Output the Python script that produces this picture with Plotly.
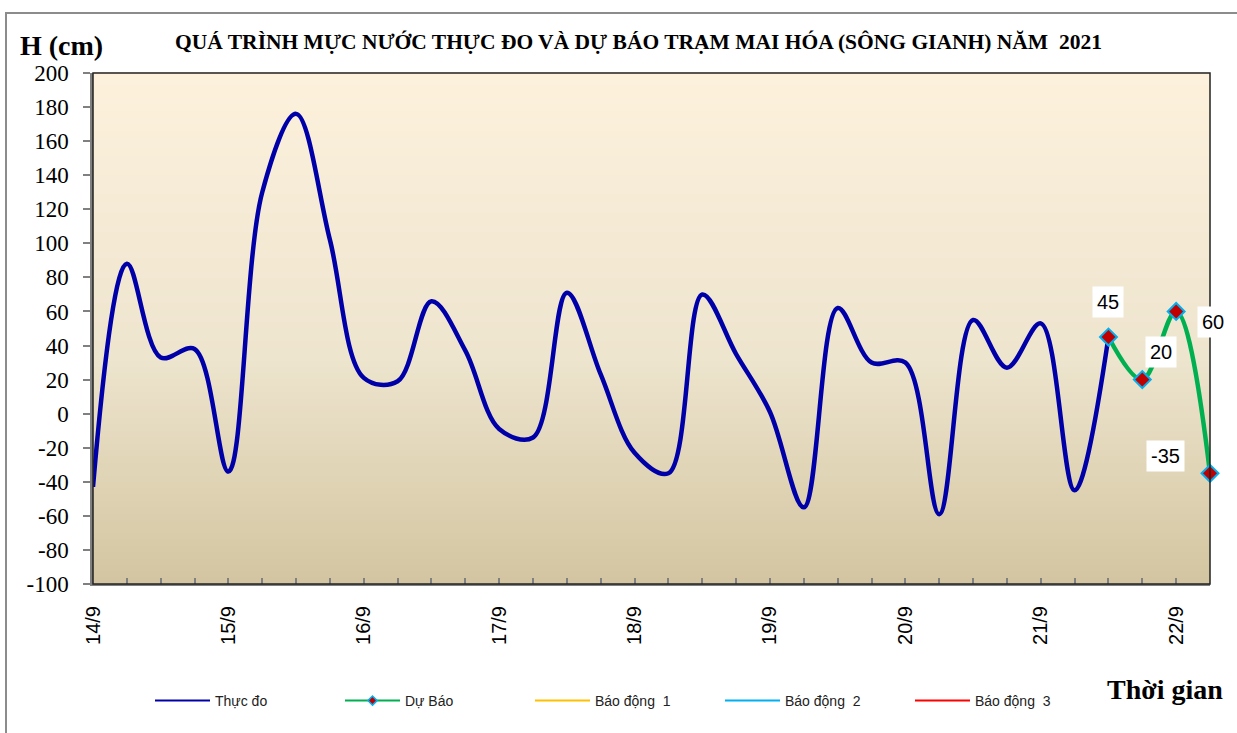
import plotly.graph_objects as go

# ---- data (6-hourly, index 0 = 14/9 00h) ----
observed = [-43, 88, 33, 38, -34, 130, 176, 102, 21, 19, 66,
            37, -9, -14, 71, 23, -23, -35, 70, 35, 1, -55,
            62, 30, 30, -59, 55, 27, 53, -45, 45]
forecast_idx = [30, 31, 32, 33]
forecast = [45, 20, 60, -35]
day_labels = ["14/9", "15/9", "16/9", "17/9", "18/9", "19/9", "20/9", "21/9", "22/9"]
steps_per_day = 4
y_ticks = [200, 180, 160, 140, 120, 100, 80, 60, 40, 20, 0, -20, -40, -60, -80, -100]
alarm_levels = {"Báo động  1": 350, "Báo động  2": 500, "Báo động  3": 650}
alarm_colors = {"Báo động  1": "#ffc000", "Báo động  2": "#00b0f0", "Báo động  3": "#ff0000"}

n_total = len(observed) + len(forecast) - 1
x_obs = list(range(len(observed)))
tickvals = list(range(n_total))
ticktext = [day_labels[i // steps_per_day] if i % steps_per_day == 0 else "" for i in tickvals]

W, H = 1237, 733
L, R, T, B = 93, 27, 73, 149
pw, ph = W - L - R, H - T - B

def px_x(p):  # pixel -> paper x
    return (p - L) / pw

def px_y(p):  # pixel -> paper y
    return (H - B - p) / ph

fig = go.Figure()

fig.add_trace(go.Scatter(x=x_obs, y=observed, mode="lines", name="Thực đo", showlegend=False,
                         line=dict(color="#0000a8", width=4.5, shape="spline", smoothing=1)))
fig.add_trace(go.Scatter(x=forecast_idx, y=forecast, mode="lines+markers", name="Dự Báo",
                         showlegend=False,
                         line=dict(color="#00b050", width=4.5, shape="spline", smoothing=1),
                         marker=dict(symbol="diamond", size=13, color="#c00000",
                                     line=dict(color="#00b0f0", width=2)),
                         cliponaxis=False))
for name, lvl in alarm_levels.items():
    fig.add_trace(go.Scatter(x=[0, n_total - 1], y=[lvl, lvl], mode="lines", name=name,
                             showlegend=False, line=dict(color=alarm_colors[name], width=2)))

# legend entries (thin sample lines like the reference legend)
fig.add_trace(go.Scatter(x=[None], y=[None], mode="lines", name="Thực đo",
                         line=dict(color="#0000a8", width=2)))
fig.add_trace(go.Scatter(x=[None], y=[None], mode="lines+markers", name="Dự Báo",
                         line=dict(color="#00b050", width=2),
                         marker=dict(symbol="diamond", size=7, color="#c00000",
                                     line=dict(color="#00b0f0", width=1.5))))
for name in alarm_levels:
    fig.add_trace(go.Scatter(x=[None], y=[None], mode="lines", name=name,
                             line=dict(color=alarm_colors[name], width=2)))

# data labels
label_shift = [(0, 35), (19, 28), (37, -11), (-45, 17)]
for (xi, yv), (dx, dy) in zip(zip(forecast_idx, forecast), label_shift):
    fig.add_annotation(x=xi, y=yv, text=str(yv), showarrow=False, xshift=dx, yshift=dy,
                       bgcolor="white", borderpad=4,
                       font=dict(family="Liberation Sans, Arial", size=20, color="black"))

# gradient background (bands)
def mix(c1, c2, t):
    return "#" + "".join(f"{round(a + (b - a) * t):02x}" for a, b in zip(c1, c2))
stops = [(0.0, (0xd3, 0xc5, 0xa0)), (0.45, (0xee, 0xe5, 0xcf)), (1.0, (0xfd, 0xf1, 0xdc))]
nb = 80
for k in range(nb):
    y0, y1 = k / nb, (k + 1) / nb
    t = (y0 + y1) / 2
    for (a, ca), (b, cb) in zip(stops[:-1], stops[1:]):
        if a <= t <= b:
            col = mix(ca, cb, (t - a) / (b - a))
            break
    fig.add_shape(type="rect", xref="paper", yref="paper", x0=0, x1=1, y0=y0, y1=y1 + 0.002,
                  fillcolor=col, line=dict(width=0), layer="below")

# plot-area border (top/right black)
fig.add_shape(type="rect", xref="paper", yref="paper", x0=0, x1=1, y0=0, y1=1,
              line=dict(color="#222222", width=1.5), layer="above")
# chart-area border
fig.add_shape(type="rect", xref="paper", yref="paper", x0=px_x(6), x1=px_x(1245),
              y0=px_y(745), y1=px_y(13), line=dict(color="#8c8c8c", width=2))

serif = "Liberation Serif, Times New Roman"
fig.add_annotation(xref="paper", yref="paper", x=px_x(61), y=px_y(46), xanchor="center",
                   yanchor="middle", showarrow=False, text="<b>H (cm)</b>",
                   font=dict(family=serif, size=28, color="black"))
fig.add_annotation(xref="paper", yref="paper", x=px_x(638), y=px_y(42), xanchor="center",
                   yanchor="middle", showarrow=False,
                   text="<b>QUÁ TRÌNH MỰC NƯỚC THỰC ĐO VÀ DỰ BÁO TRẠM MAI HÓA (SÔNG GIANH) NĂM  2021</b>",
                   font=dict(family=serif, size=21.5, color="black"))
fig.add_annotation(xref="paper", yref="paper", x=px_x(1165), y=px_y(690), xanchor="center",
                   yanchor="middle", showarrow=False, text="<b>Thời gian</b>",
                   font=dict(family=serif, size=28, color="black"))

fig.update_layout(
    width=W, height=H, margin=dict(l=L, r=R, t=T, b=B),
    paper_bgcolor="white", plot_bgcolor="rgba(0,0,0,0)",
    showlegend=True,
    legend=dict(orientation="h", x=px_x(150), y=px_y(701), xanchor="left", yanchor="middle",
                font=dict(family="Liberation Sans, Arial", size=14, color="#222222"),
                itemwidth=55, entrywidth=120, entrywidthmode="pixels",
                bgcolor="rgba(0,0,0,0)"),
    xaxis=dict(range=[0, n_total - 1], tickvals=tickvals, ticktext=ticktext, tickangle=-90,
               ticks="inside", ticklen=6, tickcolor="#808080", tickwidth=1.5,
               ticklabelstandoff=12,
               showline=True, linecolor="#808080", linewidth=2, showgrid=False, zeroline=False,
               tickfont=dict(family="Liberation Sans, Arial", size=20, color="black")),
    yaxis=dict(range=[-100, 200], tickvals=y_ticks, ticktext=[str(v) for v in y_ticks],
               ticks="outside", ticklen=7, tickcolor="#808080",
               tickwidth=1.5, showline=True, linecolor="#808080", linewidth=2.5,
               showgrid=False, zeroline=False, ticklabelstandoff=10,
               tickfont=dict(family=serif, size=23, color="black")),
)

fig.write_html("out.html", config={"displayModeBar": False},
               post_script="document.body.style.margin='0';document.body.style.overflow='hidden';")
